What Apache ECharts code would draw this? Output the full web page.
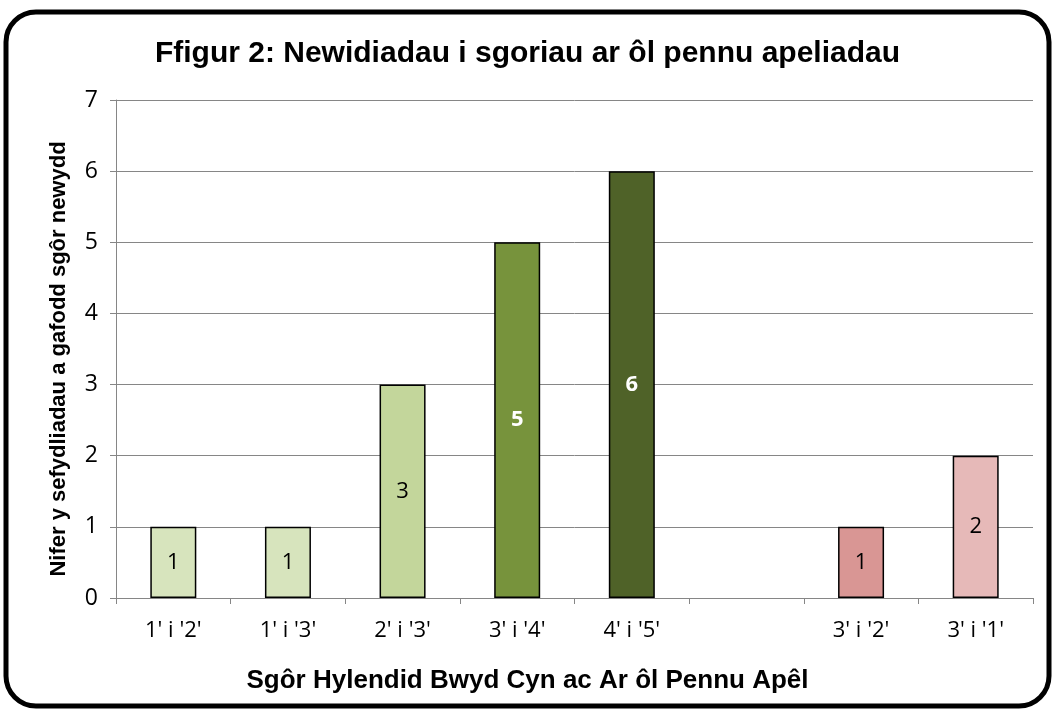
<!DOCTYPE html>
<html>
<head>
<meta charset="utf-8">
<script src="https://cdn.jsdelivr.net/npm/echarts@6/dist/echarts.min.js"></script>
<style>
  html, body { margin: 0; padding: 0; background: #fff; }
  #chart { width: 1055px; height: 711px; }
</style>
</head>
<body>
<div id="chart"></div>
<script>
const categories = ["1' i '2'", "1' i '3'", "2' i '3'", "3' i '4'", "4' i '5'", '', "3' i '2'", "3' i '1'"]
const values = [1, 1, 3, 5, 6, null, 1, 2]
const barColors = ['#d7e4bd', '#d7e4bd', '#c3d69b', '#77933c', '#4f6228', '#ffffff', '#d99694', '#e6b9b8']
const labelColors = ['#000', '#000', '#000', '#fff', '#fff', '#000', '#000', '#000']
const yTicks = [0, 1, 2, 3, 4, 5, 6, 7]

const chart = echarts.init(document.getElementById('chart'))

const option = {
  animation: false,
  backgroundColor: '#fff',
  title: {
    text: 'Ffigur 2: Newidiadau i sgoriau ar ôl pennu apeliadau',
    left: 'center',
    top: 34,
    textStyle: {
      fontFamily: 'Liberation Sans, Arial',
      fontWeight: 'bold',
      fontSize: 30,
      color: '#000'
    }
  },
  graphic: [
    {
      type: 'rect',
      shape: { x: 6, y: 12, width: 1043, height: 694, r: 30 },
      style: { fill: 'none', stroke: '#000', lineWidth: 5 },
      silent: true
    }
  ],
  grid: { left: 116, right: 22, top: 100, bottom: 113 },
  xAxis: {
    type: 'category',
    data: categories,
    name: 'Sgôr Hylendid Bwyd Cyn ac Ar ôl Pennu Apêl',
    nameLocation: 'middle',
    nameGap: 70,
    nameTextStyle: {
      fontFamily: 'Liberation Sans, Arial',
      fontWeight: 'bold',
      fontSize: 26,
      color: '#000',
      padding: [0, 94, 0, 0]
    },
    axisLine: { lineStyle: { color: '#868686', width: 1 } },
    axisTick: { show: true, length: 6, lineStyle: { color: '#868686' } },
    axisLabel: {
      margin: 22,
      fontFamily: 'Open Sans, Noto Sans',
      fontSize: 22,
      color: '#000'
    }
  },
  yAxis: {
    type: 'value',
    min: 0,
    max: 7,
    interval: 1,
    name: 'Nifer y sefydliadau a gafodd sgôr newydd',
    nameLocation: 'middle',
    nameGap: 46,
    nameTextStyle: {
      fontFamily: 'Liberation Sans, Arial',
      fontWeight: 'bold',
      fontSize: 22,
      color: '#000',
      padding: [0, 20, 0, 0]
    },
    axisLine: { show: true, lineStyle: { color: '#868686', width: 1 } },
    axisTick: { show: true, length: 6, lineStyle: { color: '#868686' } },
    axisLabel: {
      margin: 18,
      fontFamily: 'Open Sans, Noto Sans',
      fontSize: 23,
      color: '#000',
      formatter: (v) => (yTicks.includes(v) ? String(v) : '')
    },
    splitLine: { lineStyle: { color: '#868686', width: 1 } }
  },
  series: [
    {
      type: 'bar',
      barWidth: 46,
      data: values.map((v, i) => ({
        value: v,
        itemStyle: { color: barColors[i], borderColor: '#000', borderWidth: 1.5 },
        label: {
          color: labelColors[i],
          fontWeight: labelColors[i] === '#fff' ? 'bold' : 'normal'
        }
      })),
      label: {
        show: true,
        position: 'inside',
        fontFamily: 'Open Sans, Noto Sans',
        fontSize: 22
      }
    }
  ]
}

chart.setOption(option)
</script>
</body>
</html>
